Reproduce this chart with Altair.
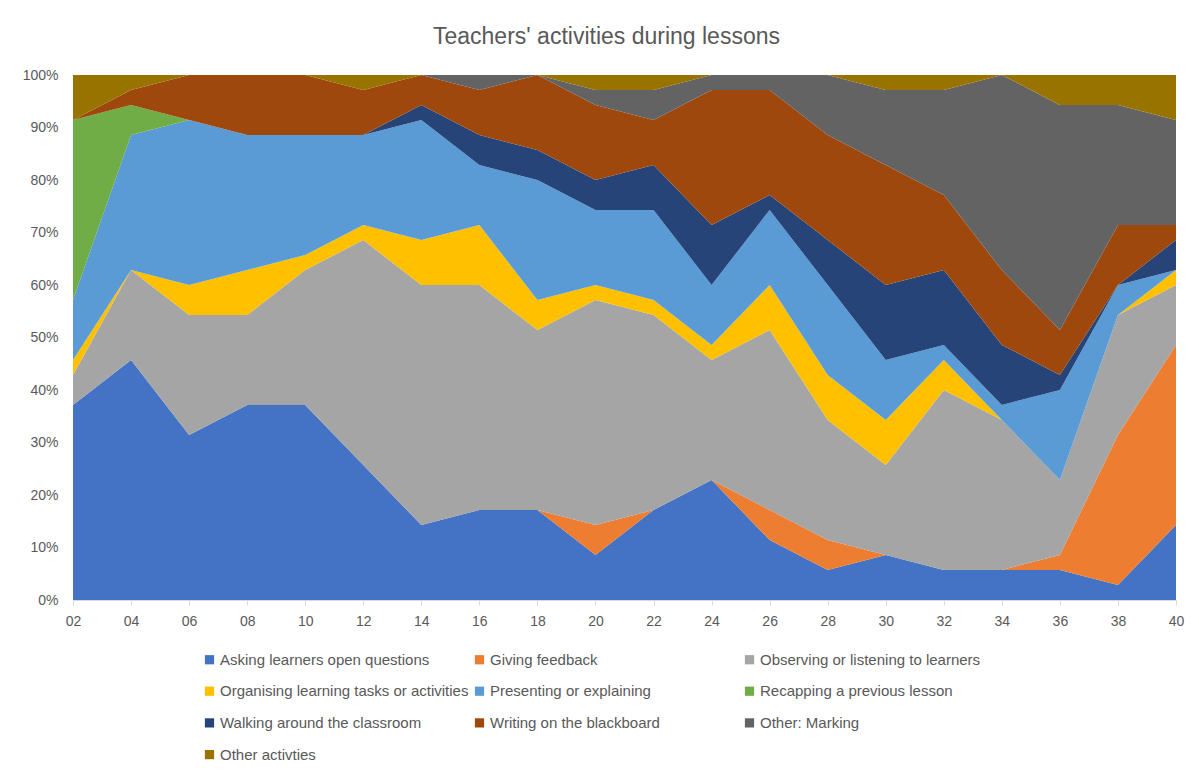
import altair as alt
import pandas as pd

times = ["02", "04", "06", "08", "10", "12", "14", "16", "18", "20",
         "22", "24", "26", "28", "30", "32", "34", "36", "38", "40"]

series = [
    "Asking learners open questions",
    "Giving feedback",
    "Observing or listening to learners",
    "Organising learning tasks or activities",
    "Presenting or explaining",
    "Recapping a previous lesson",
    "Walking around the classroom",
    "Writing on the blackboard",
    "Other: Marking",
    "Other activties",
]
colors = ["#4472C4", "#ED7D31", "#A5A5A5", "#FFC000", "#5B9BD5",
          "#70AD47", "#264478", "#9E480E", "#636363", "#997300"]

# counts of observed teachers per activity at each time point (35 per point)
asking = [13, 16, 11, 13, 13, 9, 5, 6, 6, 3, 6, 8, 4, 2, 3, 2, 2, 2, 1, 5]
feedback = [0, 0, 0, 0, 0, 0, 0, 0, 0, 2, 0, 0, 2, 2, 0, 0, 0, 1, 10, 12]
observing = [2, 6, 8, 6, 9, 15, 16, 15, 12, 15, 13, 8, 12, 8, 6, 12, 10, 5, 8, 4]
organising = [1, 0, 2, 3, 1, 1, 3, 4, 2, 1, 1, 1, 3, 3, 3, 2, 0, 0, 0, 1]
presenting = [4, 9, 11, 9, 8, 6, 8, 4, 8, 5, 6, 4, 5, 6, 4, 1, 1, 6, 2, 0]
recapping = [12, 2, 0, 0, 0, 0, 0, 0, 0, 0, 0, 0, 0, 0, 0, 0, 0, 0, 0, 0]
walking = [0, 0, 0, 0, 0, 0, 1, 2, 2, 2, 3, 4, 1, 3, 5, 5, 4, 1, 0, 2]
writing = [0, 1, 3, 4, 4, 3, 2, 3, 5, 5, 3, 9, 7, 7, 8, 5, 5, 3, 4, 1]
marking = [0, 0, 0, 0, 0, 0, 0, 1, 0, 1, 2, 1, 1, 4, 5, 7, 13, 15, 8, 7]
other = [3, 1, 0, 0, 0, 1, 0, 0, 0, 1, 1, 0, 0, 0, 1, 1, 0, 2, 2, 3]

values = [asking, feedback, observing, organising, presenting,
          recapping, walking, writing, marking, other]

y_ticks = [i / 10 for i in range(11)]

rows = []
for si, (name, vals) in enumerate(zip(series, values)):
    for t, v in zip(times, vals):
        rows.append({"time": t, "activity": name, "count": v, "idx": si})
df = pd.DataFrame(rows)

FONT = "Liberation Sans"
TXT = "#595959"

chart = alt.Chart(df).mark_area().encode(
    x=alt.X("time:O", sort=times, title=None,
            scale=alt.Scale(type="point", padding=0),
            axis=alt.Axis(labelAngle=0, domainColor="#D9D9D9", tickColor="#D9D9D9",
                          tickSize=5, labelPadding=9, labelFontSize=14,
                          labelColor=TXT, grid=False)),
    y=alt.Y("count:Q", stack="normalize", title=None,
            scale=alt.Scale(domain=[0, 1], nice=False),
            axis=alt.Axis(format=".0%", values=y_ticks, domain=False, ticks=False,
                          labelPadding=15, labelFontSize=14, labelColor=TXT,
                          grid=False)),
    color=alt.Color("activity:N",
                    scale=alt.Scale(domain=series, range=colors),
                    legend=alt.Legend(title=None, orient="none", legendX=129, legendY=577,
                                      columns=3, direction="horizontal",
                                      symbolType="square", symbolSize=85,
                                      symbolStrokeWidth=0, symbolOffset=0,
                                      labelOffset=3,
                                      labelFontSize=15, labelColor=TXT,
                                      labelLimit=400, rowPadding=15.7,
                                      columnPadding=3, gridAlign="all")),
    order=alt.Order("idx:Q", sort="ascending"),
).properties(
    width=1103,
    height=525,
    title=alt.TitleParams("Teachers' activities during lessons", fontSize=23,
                          font=FONT, color=TXT, fontWeight="normal",
                          anchor="middle", dx=-18, offset=19),
    autosize=alt.AutoSizeParams(type="none"),
    padding={"left": 65, "top": 67, "right": 15, "bottom": 168},
).configure(
    font=FONT,
).configure_view(
    stroke=None,
).configure_axis(
    labelFont=FONT,
).configure_legend(
    labelFont=FONT,
)

chart.save("out.html", embed_options={"renderer": "svg", "actions": False})
